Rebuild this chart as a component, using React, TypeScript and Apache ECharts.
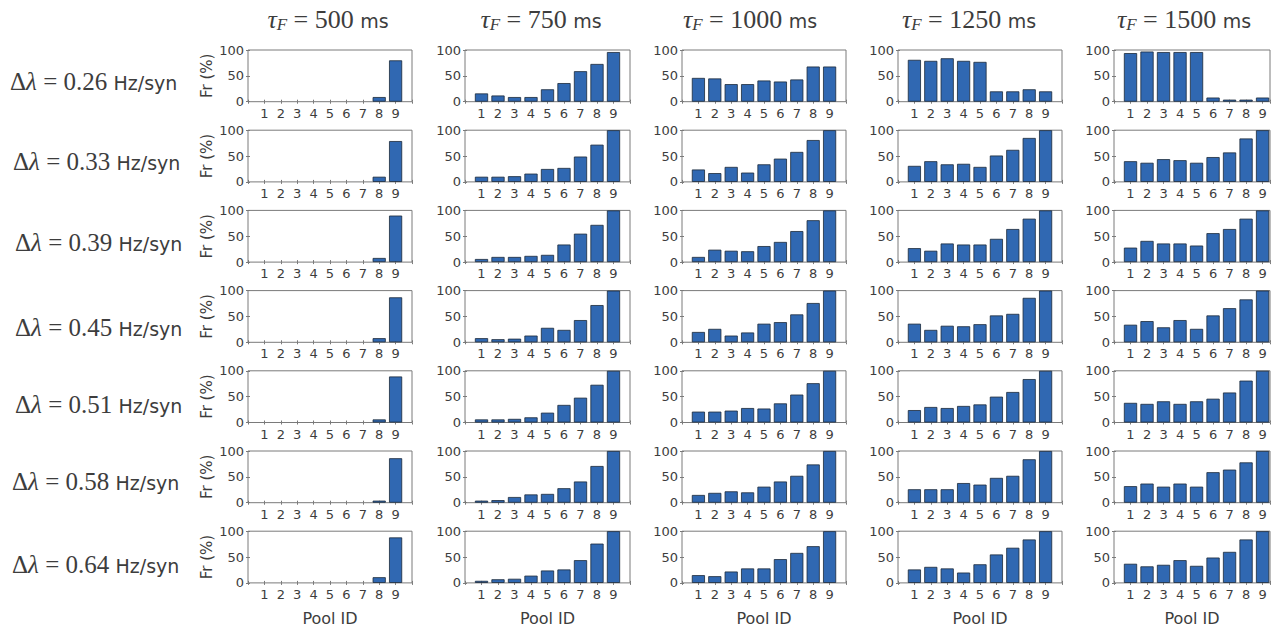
import React, { useEffect, useRef } from "react";
import * as echarts from "echarts";

// Pool IDs on the x axis and y ticks
const poolIds = [1, 2, 3, 4, 5, 6, 7, 8, 9];
const yTickValues = [0, 50, 100];

// Column headers (tau_F in ms) and row headers (delta lambda in Hz/syn)
const tauF = ["500", "750", "1000", "1250", "1500"];
const deltaLambda = ["0.26", "0.33", "0.39", "0.45", "0.51", "0.58", "0.64"];

// Firing rate (%) per pool; one array per tau_F, one row per delta lambda
const frTau500 = [
  [0, 0, 0, 0, 0, 0, 0, 9, 80],
  [0, 0, 0, 0, 0, 0, 0, 10, 79],
  [0, 0, 0, 0, 0, 0, 0, 8, 90],
  [0, 0, 0, 0, 0, 0, 0, 8, 87],
  [0, 0, 0, 0, 0, 0, 0, 6, 89],
  [0, 0, 0, 0, 0, 0, 0, 4, 86],
  [0, 0, 0, 0, 0, 0, 0, 11, 88],
];
const frTau750 = [
  [16, 12, 9, 9, 24, 36, 59, 73, 96],
  [10, 10, 11, 16, 25, 27, 49, 72, 100],
  [6, 10, 10, 12, 14, 34, 55, 72, 100],
  [8, 6, 7, 13, 28, 24, 43, 72, 100],
  [6, 6, 7, 10, 19, 34, 48, 73, 100],
  [4, 5, 11, 16, 17, 28, 41, 71, 100],
  [4, 7, 8, 14, 24, 26, 44, 76, 100],
];
const frTau1000 = [
  [46, 45, 34, 34, 41, 39, 43, 68, 68],
  [24, 17, 29, 18, 34, 45, 58, 81, 100],
  [10, 24, 22, 21, 31, 39, 60, 81, 100],
  [20, 26, 13, 19, 36, 39, 54, 76, 100],
  [21, 21, 23, 28, 27, 37, 54, 76, 100],
  [15, 19, 22, 20, 31, 41, 52, 74, 100],
  [15, 13, 22, 28, 28, 46, 58, 71, 100],
];
const frTau1250 = [
  [81, 79, 84, 79, 77, 20, 20, 24, 20],
  [31, 40, 34, 35, 29, 51, 62, 85, 100],
  [27, 22, 36, 34, 34, 45, 64, 84, 100],
  [36, 24, 32, 31, 35, 52, 55, 86, 100],
  [24, 30, 28, 32, 35, 50, 59, 84, 100],
  [26, 26, 26, 38, 35, 48, 52, 84, 100],
  [26, 31, 28, 20, 36, 55, 68, 84, 100],
];
const frTau1500 = [
  [94, 97, 96, 96, 96, 8, 4, 4, 8],
  [40, 37, 44, 42, 37, 48, 57, 84, 100],
  [28, 41, 36, 36, 32, 56, 64, 84, 100],
  [34, 41, 29, 43, 26, 52, 66, 83, 100],
  [38, 36, 41, 36, 41, 46, 58, 81, 100],
  [32, 37, 31, 37, 31, 59, 64, 78, 100],
  [37, 32, 35, 44, 33, 49, 60, 84, 100],
];
const columns = [frTau500, frTau750, frTau1000, frTau1250, frTau1500];

// Layout of the panel grid (pixels)
const colLeft = [248, 465, 682, 898, 1114];
const colWidth = [164, 165, 164, 164, 156];
const colXMax = [10, 10, 10, 10, 9.45];
const rowTop0 = 50;
const rowPitch = 80.2;
const boxH = 51.7;
const titleX = [328, 541, 750, 969, 1184];
const rowLabelX = [10, 13, 15, 15, 15, 12, 12];
const rowLabelY = [81, 161, 242, 327, 404, 481, 564];

const SERIF = "'Liberation Serif', 'DejaVu Serif', serif";
const SANS = "'DejaVu Sans', sans-serif";
const TEXT = "#3d3d3d";
const BOX = "#7a7a7a";
const BAR = "#3068b2";

function buildOption(): echarts.EChartsOption {
  const grid: any[] = [];
  const xAxis: any[] = [];
  const yAxis: any[] = [];
  const series: any[] = [];
  const graphic: any[] = [];

  columns.forEach((rows, c) => {
    rows.forEach((vals, r) => {
      const gi = grid.length;
      const top = rowTop0 + r * rowPitch;
      grid.push({
        left: colLeft[c],
        top,
        width: colWidth[c],
        height: boxH,
        show: true,
        borderColor: BOX,
        borderWidth: 1,
        backgroundColor: "#fff",
        containLabel: false,
      });
      const xBase = {
        type: "value",
        gridIndex: gi,
        min: 0,
        max: colXMax[c],
        interval: 1,
        splitLine: { show: false },
        axisLine: { show: false },
        axisTick: { show: true, inside: true, length: 2, lineStyle: { color: BOX } },
      };
      xAxis.push({
        ...xBase,
        position: "bottom",
        axisLabel: {
          show: true,
          margin: 5,
          fontSize: 13,
          fontFamily: SANS,
          color: TEXT,
          formatter: (v: number) => (poolIds.includes(v) ? String(v) : ""),
        },
      });
      xAxis.push({ ...xBase, position: "top", axisLabel: { show: false } });
      const yBase = {
        type: "value",
        gridIndex: gi,
        min: 0,
        max: 100,
        interval: 50,
        splitLine: { show: false },
        axisLine: { show: false },
        axisTick: { show: true, inside: true, length: 2, lineStyle: { color: BOX } },
      };
      yAxis.push({
        ...yBase,
        position: "left",
        axisLabel: {
          show: true,
          margin: 4,
          fontSize: 13,
          fontFamily: SANS,
          color: TEXT,
          formatter: (v: number) => (yTickValues.includes(v) ? String(v) : ""),
        },
      });
      yAxis.push({ ...yBase, position: "right", axisLabel: { show: false } });
      series.push({
        type: "bar",
        xAxisIndex: 2 * gi,
        yAxisIndex: 2 * gi,
        barWidth: "80%",
        data: poolIds.map((p, i) => ({
          value: [p, vals[i]],
          // empty pools draw no outline on the baseline
          itemStyle: vals[i] === 0 ? { borderWidth: 0 } : undefined,
        })),
        itemStyle: { color: BAR, borderColor: "#1c2a3a", borderWidth: 0.8 },
        silent: true,
      });

      if (c === 0) {
        graphic.push({
          type: "text",
          x: 207,
          y: top + boxH / 2,
          rotation: Math.PI / 2,
          style: {
            text: "Fr (%)",
            fill: TEXT,
            font: `15px ${SANS}`,
            align: "center",
            verticalAlign: "middle",
          },
        });
      }
    });

    graphic.push({
      type: "text",
      x: titleX[c],
      y: 19,
      style: {
        text: `{t|τ}{s|F}{n| = ${tauF[c]} }{u|ms}`,
        fill: TEXT,
        align: "center",
        verticalAlign: "middle",
        rich: {
          t: { fontFamily: SERIF, fontStyle: "italic", fontSize: 26, lineHeight: 28 },
          s: { fontFamily: SERIF, fontStyle: "italic", fontSize: 17, lineHeight: 14, verticalAlign: "bottom" },
          n: { fontFamily: SERIF, fontSize: 26, lineHeight: 28 },
          u: { fontFamily: SANS, fontSize: 19, lineHeight: 20, padding: [4, 0, 0, 0] },
        },
      },
    });
    graphic.push({
      type: "text",
      x: colLeft[c] + colWidth[c] / 2,
      y: 618,
      style: {
        text: "Pool ID",
        fill: TEXT,
        font: `16px ${SANS}`,
        align: "center",
        verticalAlign: "middle",
      },
    });
  });

  deltaLambda.forEach((d, r) => {
    graphic.push({
      type: "text",
      x: rowLabelX[r],
      y: rowLabelY[r],
      style: {
        text: `{m|Δ}{l|λ}{m| = ${d} }{u|Hz/syn}`,
        fill: TEXT,
        align: "left",
        verticalAlign: "middle",
        rich: {
          m: { fontFamily: SERIF, fontSize: 25, lineHeight: 30 },
          l: { fontFamily: SERIF, fontStyle: "italic", fontSize: 25, lineHeight: 30 },
          u: { fontFamily: SANS, fontSize: 19, lineHeight: 21, padding: [4, 0, 0, 0] },
        },
      },
    });
  });

  return {
    animation: false,
    backgroundColor: "#fff",
    grid,
    xAxis,
    yAxis,
    series,
    graphic,
  } as echarts.EChartsOption;
}

export default function App() {
  const ref = useRef<HTMLDivElement>(null);
  useEffect(() => {
    document.body.style.margin = "0";
    const chart = echarts.init(ref.current!, undefined, { renderer: "svg" });
    chart.setOption(buildOption());
    return () => chart.dispose();
  }, []);
  return (
    <div
      ref={ref}
      style={{ position: "absolute", left: 0, top: 0, width: 1281, height: 630 }}
    />
  );
}
